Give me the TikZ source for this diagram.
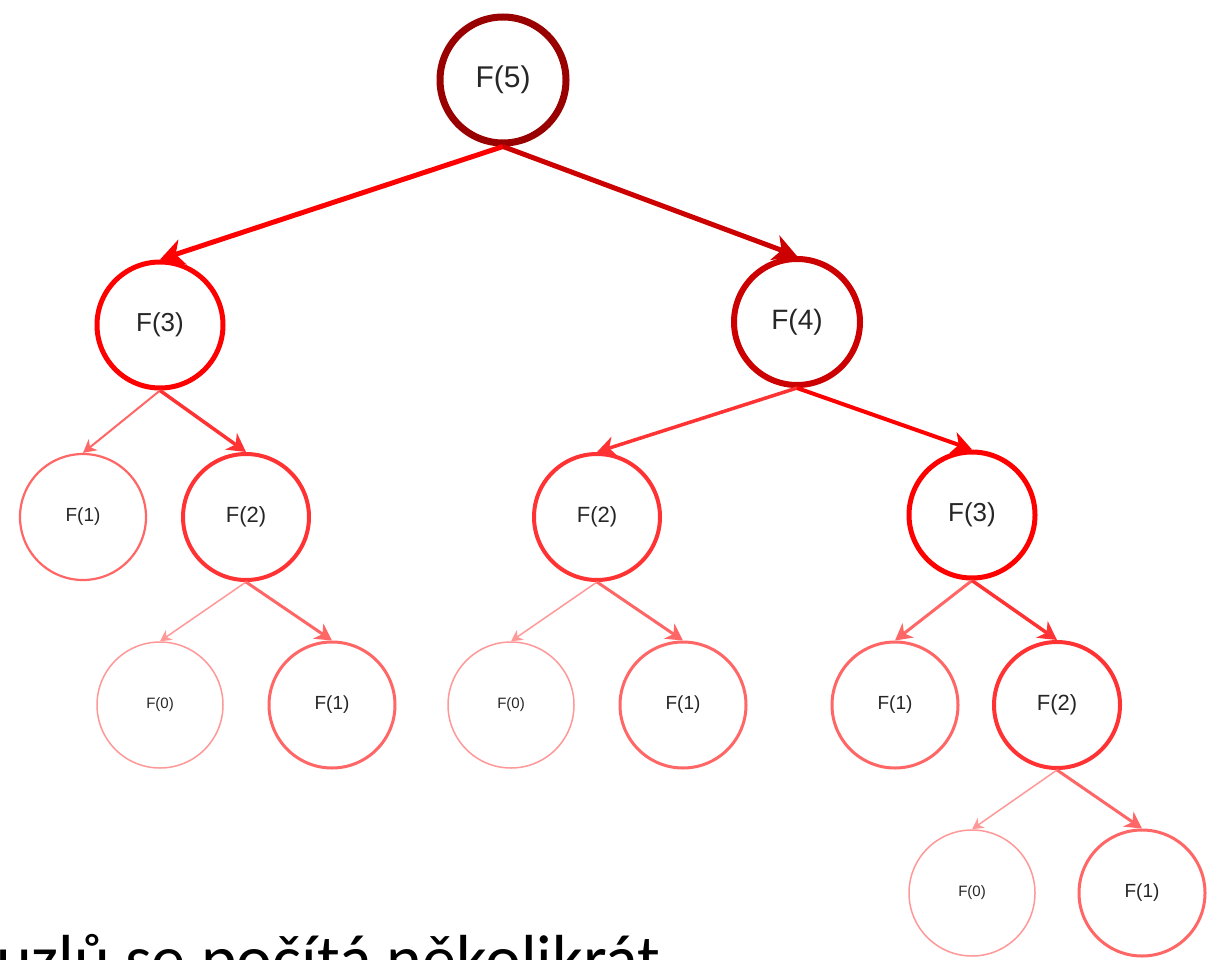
\documentclass[tikz,border=0pt]{standalone}
\usepackage{fontspec}
\setmainfont{Liberation Sans}
\newfontfamily\capfont{Carlito}
\usetikzlibrary{arrows.meta}
\definecolor{c5}{HTML}{990000}
\definecolor{c4}{HTML}{CC0000}
\definecolor{c3}{HTML}{FF0000}
\definecolor{c2}{HTML}{FF3333}
\definecolor{c1}{HTML}{FF6666}
\definecolor{c0}{HTML}{FF9999}
\begin{document}
\begin{tikzpicture}[x=1pt,y=-1pt,
  fnode/.style={circle,minimum size=126pt,inner sep=0pt,fill=white,text=black!85},
  n5/.style={fnode,draw=c5,line width=7pt,font=\fontsize{30}{30}\selectfont},
  n4/.style={fnode,draw=c4,line width=6pt,font=\fontsize{28}{28}\selectfont},
  n3/.style={fnode,draw=c3,line width=5pt,font=\fontsize{26}{26}\selectfont},
  n2/.style={fnode,draw=c2,line width=4pt,font=\fontsize{22}{22}\selectfont},
  n1/.style={fnode,draw=c1,line width=3pt,font=\fontsize{19}{19}\selectfont},
  n1s/.style={fnode,draw=c1,line width=2.2pt,font=\fontsize{19}{19}\selectfont},
  n0/.style={fnode,draw=c0,line width=1.5pt,font=\fontsize{15}{15}\selectfont},
  edge/.style={-{Stealth[length=6pt 3.5,width=6pt 4,inset=2pt 1]}},
  e4/.style={edge,draw=c4,line width=5pt},
  e3/.style={edge,draw=c3,line width=5pt},
  e3b/.style={edge,draw=c3,line width=4pt},
  e2/.style={edge,draw=c2,line width=3.5pt},
  e1/.style={edge,draw=c1,line width=3pt},
  e1s/.style={edge,draw=c1,line width=2pt},
  e0/.style={edge,draw=c0,line width=1.5pt}
]
\useasboundingbox[fill=white] (0,0) rectangle (1207,960);
% nodes
\node[n5] (a) at (503,80) {F(5)};
\node[n3] (b) at (160,325) {F(3)};
\node[n4] (c) at (797,322) {F(4)};
\node[n1s] (d) at (83,517) {F(1)};
\node[n2] (e) at (246,517) {F(2)};
\node[n2] (f) at (597,517) {F(2)};
\node[n3] (g) at (972,515) {F(3)};
\node[n0] (h) at (160,705) {F(0)};
\node[n1] (i) at (332,705) {F(1)};
\node[n0] (j) at (511,705) {F(0)};
\node[n1] (k) at (683,705) {F(1)};
\node[n1] (l) at (895,705) {F(1)};
\node[n2] (m) at (1057,705) {F(2)};
\node[n0] (n) at (972,893) {F(0)};
\node[n1] (o) at (1142,893) {F(1)};
% edges
\draw[e3] (a.south) -- (b.north);
\draw[e4] (a.south) -- (c.north);
\draw[e1s] (b.south) -- (d.north);
\draw[e2] (b.south) -- (e.north);
\draw[e2] (c.south) -- (f.north);
\draw[e3b] (c.south) -- (g.north);
\draw[e0] (e.south) -- (h.north);
\draw[e1] (e.south) -- (i.north);
\draw[e0] (f.south) -- (j.north);
\draw[e1] (f.south) -- (k.north);
\draw[e1] (g.south) -- (l.north);
\draw[e2] (g.south) -- (m.north);
\draw[e0] (m.south) -- (n.north);
\draw[e1] (m.south) -- (o.north);
% caption (cut off at the bottom edge, as in the reference)
\node[anchor=base west,inner sep=0pt,font=\capfont\fontsize{68}{68}\selectfont] (cap) at (-4,982) {uzlů se počítá několikrát};
\end{tikzpicture}
\end{document}
